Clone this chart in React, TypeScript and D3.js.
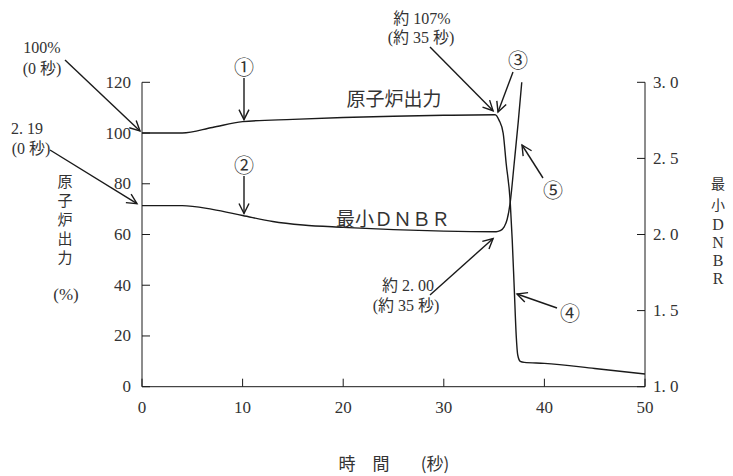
import React from 'react';
import * as d3 from 'd3';

// 原子炉出力 (%) vs 時間 (秒)
const powerTime = [0, 4, 7, 10, 15, 20, 25, 30, 35.1, 35.5, 35.9, 36.2, 36.6, 36.8, 37.0, 37.2, 37.35, 37.6, 38, 40, 45, 50];
const powerValue = [100, 100, 102.2, 104.5, 105.4, 106.1, 106.6, 107, 107.2, 105, 100, 88, 73, 58, 39, 20, 12.5, 10, 9.6, 9.2, 7.2, 5.0];

// 最小DNBR vs 時間 (秒)
const dnbrTime = [0, 4, 7, 10, 13, 16, 20, 25, 30, 35.2, 35.6, 36.0, 36.3, 36.6, 37.0, 37.4, 37.75];
const dnbrValue = [2.19, 2.19, 2.165, 2.125, 2.085, 2.062, 2.047, 2.032, 2.022, 2.018, 2.025, 2.05, 2.1, 2.21, 2.47, 2.74, 3.0];

const timeTicks = [0, 10, 20, 30, 40, 50];
const powerTicks = [0, 20, 40, 60, 80, 100, 120];
const dnbrTicks = [1.0, 1.5, 2.0, 2.5, 3.0];
const dnbrTickLabels = ['1. 0', '1. 5', '2. 0', '2. 5', '3. 0'];

const leftTitle = ['原', '子', '炉', '出', '力'];
const rightTitle = ['最', '小', 'D', 'N', 'B', 'R'];
const rightTitleY = [183, 204, 224, 242, 260, 278];

const serif = "'Liberation Serif', 'DejaVu Serif', 'Noto Sans CJK JP', serif";
const cjk = "'Noto Sans CJK JP', 'Liberation Serif', sans-serif";

function Visualizacion() {
    const width = 733;
    const height = 476;

    const x = d3.scaleLinear().domain([0, 50]).range([142, 645]);
    const yP = d3.scaleLinear().domain([0, 120]).range([386.7, 82.3]);
    const yD = d3.scaleLinear().domain([1.0, 3.0]).range([386.7, 82.3]);

    const powerLine = d3.line<number>()
        .x((d, i) => x(powerTime[i]))
        .y(d => yP(d))
        .curve(d3.curveMonotoneX);

    const dnbrLine = d3.line<number>()
        .x((d, i) => x(dnbrTime[i]))
        .y(d => yD(d))
        .curve(d3.curveMonotoneX);

    const tick = 8;
    const ink = '#1a1a1a';
    const txt = '#333';

    const arrow = (x1: number, y1: number, x2: number, y2: number) => (
        <line x1={x1} y1={y1} x2={x2} y2={y2} stroke={ink} strokeWidth={1.4} markerEnd="url(#head)" />
    );

    return (
        <svg width={width} height={height} style={{ position: 'absolute', left: 0, top: 0, background: '#fff' }}>
            <defs>
                <marker id="head" markerUnits="userSpaceOnUse" markerWidth={14} markerHeight={14}
                    refX={11} refY={6} orient="auto">
                    <path d="M1,1 L11,6 L1,11" fill="none" stroke={ink} strokeWidth={1.4} />
                </marker>
            </defs>

            {/* axes */}
            <g stroke={ink} strokeWidth={1} fill="none">
                <line x1={x(0)} x2={x(0)} y1={yP(0)} y2={yP(120)} />
                <line x1={x(50)} x2={x(50)} y1={yD(1)} y2={yD(3)} />
                <line x1={x(0)} x2={x(50)} y1={yP(0)} y2={yP(0)} />
                {powerTicks.map(t => (
                    <line key={'pt' + t} x1={x(0)} x2={x(0) + tick} y1={yP(t)} y2={yP(t)} />
                ))}
                {dnbrTicks.map(t => (
                    <line key={'dt' + t} x1={x(50)} x2={x(50) - tick} y1={yD(t)} y2={yD(t)} />
                ))}
                {timeTicks.map(t => (
                    <line key={'xt' + t} x1={x(t)} x2={x(t)} y1={yP(0)} y2={yP(0) - tick} />
                ))}
            </g>

            {/* tick labels */}
            <g style={{ fontFamily: serif }} fontSize={17} fill={txt}>
                {powerTicks.map(t => (
                    <text key={'pl' + t} x={131} y={yP(t)} textAnchor="end" dominantBaseline="central">{t}</text>
                ))}
                {dnbrTicks.map((t, i) => (
                    <text key={'dl' + t} x={653} y={yD(t)} dominantBaseline="central">{dnbrTickLabels[i]}</text>
                ))}
                {timeTicks.map(t => (
                    <text key={'xl' + t} x={x(t)} y={407} textAnchor="middle" dominantBaseline="central">{t}</text>
                ))}
            </g>

            {/* axis titles */}
            <g style={{ fontFamily: cjk }} fontSize={15} fill={txt} textAnchor="middle">
                {leftTitle.map((c, i) => (
                    <text key={'lt' + i} x={65} y={180 + i * 19} dominantBaseline="central">{c}</text>
                ))}
                <text x={66} y={294} dominantBaseline="central" style={{ fontFamily: serif }} fontSize={17}>(%)</text>
                {rightTitle.map((c, i) => (
                    <text key={'rt' + i} x={718} y={rightTitleY[i]} dominantBaseline="central"
                        style={{ fontFamily: i < 2 ? cjk : serif }} fontSize={i < 2 ? 14 : 16}>{c}</text>
                ))}
                <text x={347} y={462} dominantBaseline="central" fontSize={17}>時</text>
                <text x={381} y={462} dominantBaseline="central" fontSize={17}>間</text>
                <text x={435} y={462} dominantBaseline="central" fontSize={17}>(秒)</text>
            </g>

            {/* series */}
            <path d={powerLine(powerValue) || ''} fill="none" stroke={ink} strokeWidth={1.4} />
            <path d={dnbrLine(dnbrValue) || ''} fill="none" stroke={ink} strokeWidth={1.4} />

            {/* series labels */}
            <text x={394} y={97} style={{ fontFamily: cjk }} fontSize={19} fill={txt} textAnchor="middle" dominantBaseline="central">原子炉出力</text>
            <text x={393} y={217} style={{ fontFamily: cjk }} fontSize={19} fill={txt} textAnchor="middle" dominantBaseline="central">最小ＤＮＢＲ</text>

            {/* annotations */}
            <g style={{ fontFamily: serif }} fontSize={16} fill={txt}>
                <text x={42} y={47} textAnchor="middle" dominantBaseline="central">100%</text>
                <text x={42} y={68} textAnchor="middle" dominantBaseline="central">(0 秒)</text>
                <text x={27} y={128} textAnchor="middle" dominantBaseline="central">2. 19</text>
                <text x={31} y={148} textAnchor="middle" dominantBaseline="central">(0 秒)</text>
                <text x={422} y={18} textAnchor="middle" dominantBaseline="central">約 107%</text>
                <text x={421} y={37} textAnchor="middle" dominantBaseline="central">(約 35 秒)</text>
                <text x={408} y={285} textAnchor="middle" dominantBaseline="central">約 2. 00</text>
                <text x={406} y={305} textAnchor="middle" dominantBaseline="central">(約 35 秒)</text>
            </g>
            <g style={{ fontFamily: cjk }} fontSize={20} fill={txt} textAnchor="middle">
                <text x={244} y={66} dominantBaseline="central">①</text>
                <text x={244} y={164} dominantBaseline="central">②</text>
                <text x={518} y={59} dominantBaseline="central">③</text>
                <text x={570} y={312} dominantBaseline="central">④</text>
                <text x={553} y={189} dominantBaseline="central">⑤</text>
            </g>

            {arrow(65, 60, x(0) - 2, yP(100) - 2)}
            {arrow(50, 150, x(0) - 5, yD(2.19) - 2)}
            {arrow(244, 78, 244, yP(104.5) - 2)}
            {arrow(244, 176, 244, yD(2.125) - 2)}
            {arrow(430, 47, x(35) - 1, yP(107.2) - 4)}
            {arrow(513, 72, 498, 112)}
            {arrow(430, 295, x(35) - 1, yD(2.0) + 4)}
            {arrow(543, 178, 522, 145)}
            {arrow(557, 308, 517, 294)}
        </svg>
    );
}

export default function App() {
    return <Visualizacion />;
}
